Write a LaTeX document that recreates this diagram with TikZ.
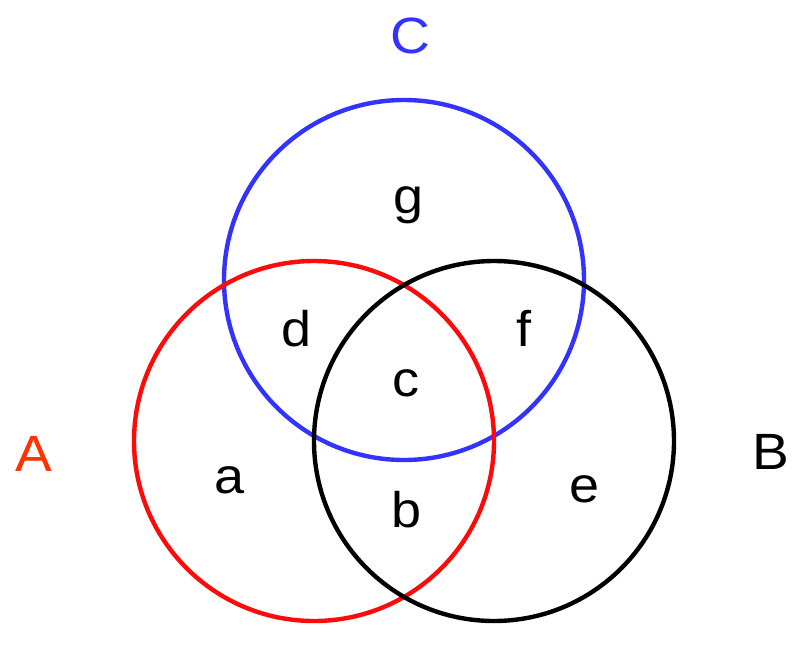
\documentclass[tikz,border=0pt]{standalone}
\usepackage{fontspec}
\setmainfont{Liberation Sans}[FakeStretch=1.08]
\definecolor{cred}{HTML}{FF0A0A}
\definecolor{cblue}{HTML}{3333FF}
\definecolor{corange}{HTML}{FF3300}
\begin{document}
\begin{tikzpicture}[x=1pt,y=-1pt,
  ring/.style={line width=4.4pt},
  lab/.style={anchor=base,inner sep=0pt,font=\fontsize{50}{58}\selectfont},
  biglab/.style={anchor=base,inner sep=0pt,font=\fontsize{51}{60}\selectfont}]
\useasboundingbox (0,0) rectangle (807,649);
\fill[white] (0,0) rectangle (807,649);
\draw[ring,cblue] (404,280) circle[radius=180];
\draw[ring,cred] (314,441) circle[radius=180];
\draw[ring,black] (494,441) circle[radius=180];
\node[biglab,text=cblue] (lC) at (410,53) {C};
\node[biglab,text=corange] (lA) at (34,471) {A};
\node[biglab,text=black] (lB) at (771,469) {B};
\node[lab] (g) at (409,213) {g};
\node[lab] (d) at (297,346) {d};
\node[lab] (f) at (524,346) {f};
\node[lab] (c) at (406,396) {c};
\node[lab] (a) at (230,493) {a};
\node[lab] (e) at (585,502) {e};
\node[lab] (b) at (407,527) {b};
\end{tikzpicture}
\end{document}
